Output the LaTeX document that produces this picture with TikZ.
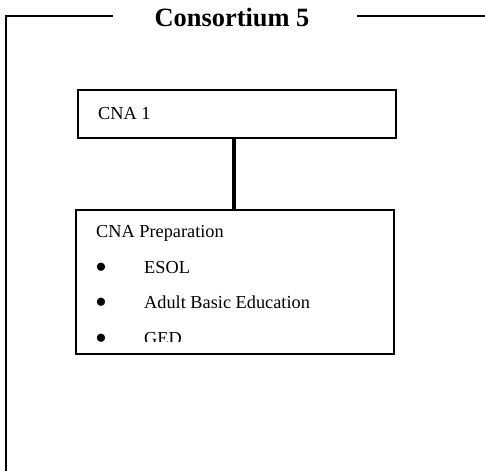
\documentclass[tikz,border=0pt]{standalone}
\usepackage{fontspec}
\setmainfont{Liberation Serif}
\usepackage{tikz}
\usetikzlibrary{positioning}
\usepackage{xcolor}

\begin{document}
\begin{tikzpicture}[x=1pt, y=1pt,
			box/.style={draw, rectangle, line width=2.2pt, minimum width=318pt, anchor=north west, inner sep=0pt},
			txt/.style={anchor=base west, inner sep=0pt, font=\fontsize{18.3}{22}\selectfont},
			dot/.style={anchor=center, inner sep=0pt, font=\fontsize{34}{38}\selectfont},
			frame/.style={line width=2.6pt},
			link/.style={line width=4.5pt}
		]
		\useasboundingbox (0,0) rectangle (485,-471);

		% frame with title
		\node[anchor=base, inner sep=0pt, font=\fontsize{26.4}{30}\selectfont\bfseries] (title) at (232,-27) {Consortium 5};
		\coordinate (fl) at (113,-16);
		\coordinate (fr) at (357,-16);
		\draw[frame] (fl) -- (6,-16) -- (6,-471);
		\draw[frame] (fr) -- (485,-16);

		\node[box, minimum height=48pt] (cna) at (77,-89) {};
		\node[txt] (cnatxt) at (98,-119) {CNA 1};

		\begin{scope}
			\clip (75,-209) rectangle (393,-341);
			\node[txt] (preptxt) at (96,-237) {CNA Preparation};
			\node[dot] (b1) at (101,-271) {•};
			\node[txt] (esol) at (144,-273) {ESOL};
			\node[dot] (b2) at (101,-306) {•};
			\node[txt] (abe) at (144,-308) {Adult Basic Education};
			\node[dot] (b3) at (101,-342) {•};
			\node[txt] (ged) at (144,-344) {GED};
		\end{scope}
		\node[box, minimum height=144pt] (prep) at (75,-209) {};

		\draw[link] ([xshift=-3pt]cna.south) -- ([xshift=-3pt]cna.south |- prep.north);
	\end{tikzpicture}
\end{document}
